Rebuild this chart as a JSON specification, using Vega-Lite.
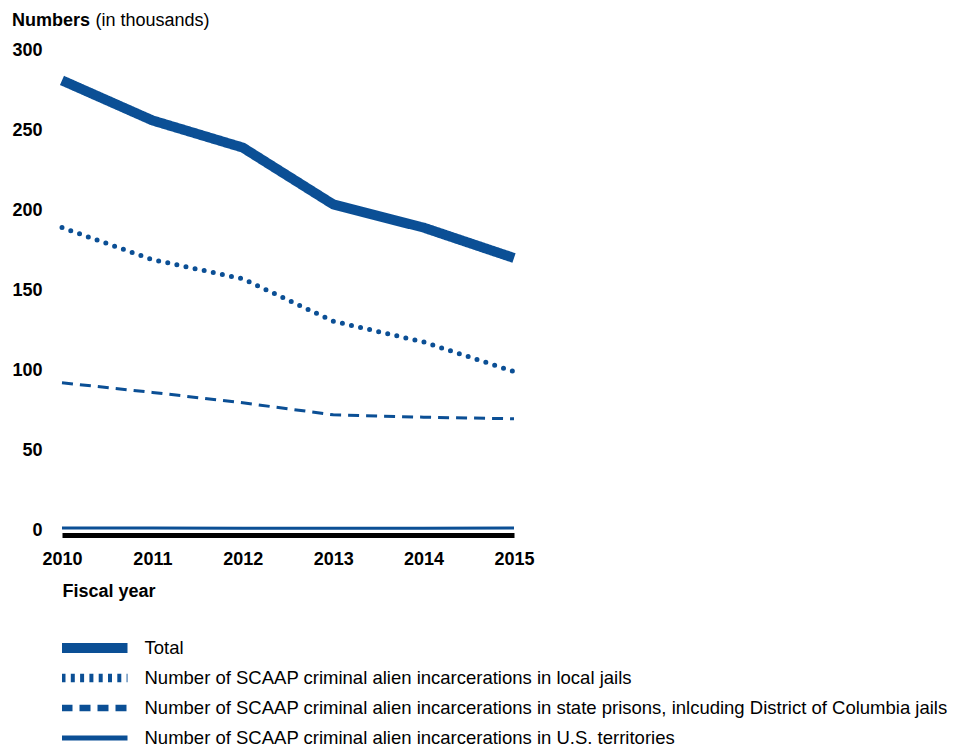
{
  "$schema": "https://vega.github.io/schema/vega-lite/v6.json",
  "width": 452,
  "height": 480,
  "autosize": {"type": "none"},
  "padding": {"left": 62, "top": 50, "right": 458, "bottom": 217},
  "background": "white",
  "title": {"text": "Numbers", "anchor": "start", "frame": "bounds", "fontSize": 18, "fontWeight": "bold", "font": "Liberation Sans", "color": "black", "offset": -18.5},
  "data": {"values": [
    {"year": "2010", "series": "Total", "value": 281},
    {"year": "2011", "series": "Total", "value": 256},
    {"year": "2012", "series": "Total", "value": 239},
    {"year": "2013", "series": "Total", "value": 203.5},
    {"year": "2014", "series": "Total", "value": 189},
    {"year": "2015", "series": "Total", "value": 170},
    {"year": "2010", "series": "Number of SCAAP criminal alien incarcerations in local jails", "value": 189},
    {"year": "2011", "series": "Number of SCAAP criminal alien incarcerations in local jails", "value": 169},
    {"year": "2012", "series": "Number of SCAAP criminal alien incarcerations in local jails", "value": 157},
    {"year": "2013", "series": "Number of SCAAP criminal alien incarcerations in local jails", "value": 130.5},
    {"year": "2014", "series": "Number of SCAAP criminal alien incarcerations in local jails", "value": 117.5},
    {"year": "2015", "series": "Number of SCAAP criminal alien incarcerations in local jails", "value": 99},
    {"year": "2010", "series": "Number of SCAAP criminal alien incarcerations in state prisons, inlcuding District of Columbia jails", "value": 92},
    {"year": "2011", "series": "Number of SCAAP criminal alien incarcerations in state prisons, inlcuding District of Columbia jails", "value": 86},
    {"year": "2012", "series": "Number of SCAAP criminal alien incarcerations in state prisons, inlcuding District of Columbia jails", "value": 79.5},
    {"year": "2013", "series": "Number of SCAAP criminal alien incarcerations in state prisons, inlcuding District of Columbia jails", "value": 72},
    {"year": "2014", "series": "Number of SCAAP criminal alien incarcerations in state prisons, inlcuding District of Columbia jails", "value": 70.5},
    {"year": "2015", "series": "Number of SCAAP criminal alien incarcerations in state prisons, inlcuding District of Columbia jails", "value": 69.5},
    {"year": "2010", "series": "Number of SCAAP criminal alien incarcerations in U.S. territories", "value": 1.3},
    {"year": "2011", "series": "Number of SCAAP criminal alien incarcerations in U.S. territories", "value": 1.2},
    {"year": "2012", "series": "Number of SCAAP criminal alien incarcerations in U.S. territories", "value": 1.1},
    {"year": "2013", "series": "Number of SCAAP criminal alien incarcerations in U.S. territories", "value": 1.1},
    {"year": "2014", "series": "Number of SCAAP criminal alien incarcerations in U.S. territories", "value": 1.1},
    {"year": "2015", "series": "Number of SCAAP criminal alien incarcerations in U.S. territories", "value": 1.2}
  ]},
  "encoding": {
    "x": {"field": "year", "type": "ordinal", "scale": {"padding": 0},
      "axis": {"title": "Fiscal year", "labelAngle": 0, "offset": 5, "domainColor": "black", "domainWidth": 5, "ticks": false, "labelPadding": 15, "titleAnchor": "start", "titleAlign": "left", "titlePadding": 14}},
    "y": {"field": "value", "type": "quantitative", "scale": {"domain": [0, 300], "nice": false, "zero": true},
      "axis": {"title": "(in thousands)", "values": [0, 50, 100, 150, 200, 250, 300], "domain": false, "ticks": false, "grid": false, "labelPadding": 20,
        "titleAngle": 0, "titleAlign": "left", "titleBaseline": "middle", "titleX": 33, "titleY": -30, "titleFontWeight": "normal"}}
  },
  "layer": [
    {"transform": [{"filter": "datum.series === 'Total'"}],
     "mark": {"type": "line", "stroke": "#0b4f95", "strokeCap": "butt", "strokeJoin": "miter"},
     "encoding": {
       "strokeDash": {"field": "series", "type": "ordinal",
         "scale": {"domain": ["Total", "Number of SCAAP criminal alien incarcerations in local jails", "Number of SCAAP criminal alien incarcerations in state prisons, inlcuding District of Columbia jails", "Number of SCAAP criminal alien incarcerations in U.S. territories"],
           "range": [[1, 0], [4, 5.3], [11, 7], [1, 0]]},
         "legend": {"title": null, "orient": "none", "legendX": 0, "legendY": 589, "direction": "vertical", "clipHeight": 18, "symbolOffset": -5.5,
           "symbolType": "M-1,0H11", "symbolSize": 121, "symbolStrokeColor": "#0b4f95", "labelOffset": 67, "rowPadding": 11,
           "labelFontSize": 18.5, "labelFont": "Liberation Sans", "labelColor": "black", "labelLimit": 0}},
       "strokeWidth": {"field": "series", "type": "ordinal",
         "scale": {"domain": ["Total", "Number of SCAAP criminal alien incarcerations in local jails", "Number of SCAAP criminal alien incarcerations in state prisons, inlcuding District of Columbia jails", "Number of SCAAP criminal alien incarcerations in U.S. territories"],
           "range": [10, 5, 3, 3]},
         "legend": {"title": null, "orient": "none", "legendX": 0, "legendY": 589, "direction": "vertical", "clipHeight": 18, "symbolOffset": -5.5,
           "symbolType": "M-1,0H11", "symbolSize": 121, "symbolStrokeColor": "#0b4f95", "labelOffset": 67, "rowPadding": 11,
           "labelFontSize": 18.5, "labelFont": "Liberation Sans", "labelColor": "black", "labelLimit": 0}}
     }},
    {"transform": [{"filter": "indexof(datum.series, 'local') >= 0"}], "mark": {"type": "line", "stroke": "#0b4f95", "strokeWidth": 5, "strokeCap": "round", "strokeDash": [0, 9.3]}},
    {"transform": [{"filter": "indexof(datum.series, 'state') >= 0"}], "mark": {"type": "line", "stroke": "#0b4f95", "strokeWidth": 3, "strokeCap": "butt", "strokeDash": [11, 7]}},
    {"transform": [{"filter": "indexof(datum.series, 'territories') >= 0"}], "mark": {"type": "line", "stroke": "#0b4f95", "strokeWidth": 3, "strokeCap": "butt"}}
  ],
  "config": {
    "view": {"stroke": null},
    "font": "Liberation Sans",
    "axis": {"labelFont": "Liberation Sans", "labelFontSize": 18, "labelFontWeight": "bold", "labelColor": "black", "titleFont": "Liberation Sans", "titleFontSize": 18, "titleFontWeight": "bold", "titleColor": "black"}
  }
}
